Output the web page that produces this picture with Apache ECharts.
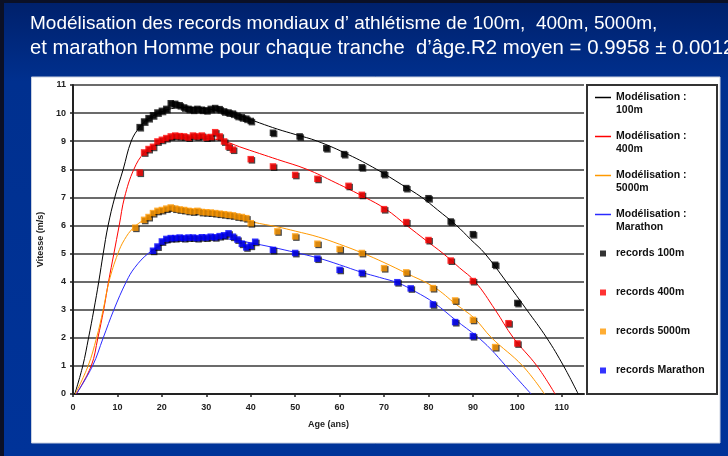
<!DOCTYPE html>
<html>
<head>
<meta charset="utf-8">
<script src="https://cdn.jsdelivr.net/npm/echarts@6/dist/echarts.min.js"></script>
<style>
  html, body { margin: 0; padding: 0; background: #003399; }
  #chart { width: 728px; height: 456px; }
</style>
</head>
<body>
<div id="chart"></div>
<script>
// records (âge, vitesse m/s)
const ages100 = [15, 16, 17, 18, 19, 20, 21, 22, 23, 24, 25, 26, 27, 28, 29, 30, 31, 32, 33, 34, 35, 36, 37, 38, 39, 40, 45, 51, 57, 61, 65, 70, 75, 80, 85, 90, 95, 100];
const rec100 = [9.5, 9.7, 9.82, 9.92, 10.02, 10.08, 10.15, 10.35, 10.33, 10.28, 10.2, 10.15, 10.12, 10.15, 10.12, 10.1, 10.15, 10.18, 10.14, 10.06, 10.02, 9.98, 9.9, 9.85, 9.8, 9.72, 9.3, 9.17, 8.75, 8.54, 8.07, 7.83, 7.33, 6.97, 6.14, 5.69, 4.6, 3.24];

const ages400 = [15, 16, 17, 18, 19, 20, 21, 22, 23, 24, 25, 26, 27, 28, 29, 30, 31, 32, 33, 34, 35, 36, 40, 45, 50, 55, 62, 65, 70, 75, 80, 85, 90, 98, 100];
const rec400 = [7.88, 8.6, 8.72, 8.8, 8.99, 9.05, 9.11, 9.17, 9.2, 9.18, 9.17, 9.13, 9.2, 9.17, 9.2, 9.13, 9.15, 9.32, 9.17, 8.99, 8.81, 8.7, 8.36, 8.1, 7.8, 7.66, 7.41, 7.09, 6.58, 6.12, 5.48, 4.75, 4.02, 2.52, 1.8];

const ages5000 = [14, 16, 17, 18, 19, 20, 21, 22, 23, 24, 25, 26, 27, 28, 29, 30, 31, 32, 33, 34, 35, 36, 37, 38, 39, 40, 46, 50, 55, 60, 65, 70, 75, 81, 86, 90, 95];
const rec5000 = [5.92, 6.2, 6.3, 6.44, 6.52, 6.55, 6.6, 6.64, 6.6, 6.57, 6.55, 6.52, 6.5, 6.52, 6.48, 6.47, 6.46, 6.44, 6.42, 6.4, 6.38, 6.36, 6.32, 6.3, 6.26, 6.08, 5.79, 5.61, 5.35, 5.16, 5.02, 4.48, 4.33, 3.77, 3.33, 2.64, 1.67];

const agesMar = [18, 19, 20, 21, 22, 23, 24, 25, 26, 27, 28, 29, 30, 31, 32, 33, 34, 35, 36, 37, 38, 39, 40, 41, 45, 50, 55, 60, 65, 73, 76, 81, 86, 90];
const recMar = [5.1, 5.25, 5.43, 5.52, 5.55, 5.55, 5.57, 5.55, 5.57, 5.57, 5.55, 5.58, 5.57, 5.6, 5.58, 5.62, 5.65, 5.72, 5.6, 5.5, 5.35, 5.22, 5.28, 5.42, 5.13, 5.02, 4.82, 4.42, 4.31, 3.98, 3.76, 3.19, 2.56, 2.06];

// courbes de modélisation
const modAge100 = [0.4, 2.2, 3.5, 4.7, 5.8, 6.8, 7.9, 9.4, 11.3, 13.1, 15, 17, 20, 23, 26, 30, 34, 38, 42, 46, 50, 55, 62, 68.3, 74, 78.5, 82, 86.3, 89.5, 92.7, 97.5, 102.1, 106.6, 110.4, 113.7];
const mod100 = [0, 1, 2, 3, 4, 5, 6, 7, 8, 9, 9.5, 9.8, 10.05, 10.18, 10.2, 10.15, 10.05, 9.88, 9.65, 9.43, 9.24, 9.0, 8.52, 8.0, 7.45, 7.0, 6.56, 6.0, 5.5, 5.0, 4.0, 3.0, 2.0, 1.0, 0];

const modAge400 = [0.75, 4.1, 5.6, 6.9, 8.0, 9.2, 10.4, 11.6, 13.7, 16.1, 19, 22, 26, 30, 34, 37.5, 42, 46, 52.6, 59, 65.7, 70.4, 75.1, 79.5, 83.3, 87, 90.5, 95, 99.1, 104.4, 108.5];
const mod400 = [0, 1, 2, 3, 4, 5, 6, 7, 8, 8.6, 8.9, 9.05, 9.12, 9.1, 9.0, 8.8, 8.56, 8.35, 8.0, 7.53, 7.0, 6.58, 6.0, 5.46, 5.0, 4.49, 4.0, 3.0, 2.0, 1.0, 0];

const modAge5000 = [0.5, 3.4, 5.3, 6.8, 8.1, 10.1, 11.6, 13.5, 16, 19, 22, 26, 30, 34, 37.5, 40.5, 46, 50, 55.2, 60, 65.1, 70, 75, 81.2, 86.3, 90.3, 94.2, 101.2, 106.1];
const mod5000 = [0, 1, 2, 3, 4, 5, 5.5, 5.9, 6.2, 6.42, 6.52, 6.55, 6.5, 6.42, 6.26, 6.12, 5.95, 5.8, 5.59, 5.33, 5.02, 4.68, 4.3, 3.81, 3.18, 2.7, 2.0, 1.0, 0];

const modAgeMar = [0.75, 4.4, 6.8, 9.2, 12, 13.9, 16.9, 20, 24, 28, 32, 36, 40, 45, 50, 55.2, 60, 65, 69, 73.2, 77, 81.3, 86.2, 90.9, 94, 97.4, 103.1];
const modMar = [0, 1, 2, 3, 4, 4.5, 5, 5.3, 5.48, 5.55, 5.55, 5.5, 5.38, 5.22, 5.04, 4.84, 4.6, 4.33, 4.15, 3.95, 3.65, 3.24, 2.62, 2.05, 1.6, 1.0, 0];

const xTicksMax = 115;
const yTicksMax = 11;

const names = ['Modélisation :\n100m', 'Modélisation :\n400m', 'Modélisation :\n5000m', 'Modélisation :\nMarathon',
  'records 100m', 'records 400m', 'records 5000m', 'records Marathon'];
const colors = ['#000000', '#ff0000', '#ff9900', '#0000ff'];

function pairs(xs, ys) {
  return xs.map(function (x, i) { return [x, ys[i]]; });
}

const modelSets = [[modAge100, mod100], [modAge400, mod400], [modAge5000, mod5000], [modAgeMar, modMar]];
const recSets = [[ages100, rec100], [ages400, rec400], [ages5000, rec5000], [agesMar, recMar]];

let series = [];
modelSets.forEach(function (s, i) {
  series.push({
    name: names[i],
    type: 'line',
    data: pairs(s[0], s[1]),
    smooth: 0.4,
    symbol: 'none',
    lineStyle: { color: i === 3 ? '#2a2aff' : colors[i], width: 1 },
    itemStyle: { color: i === 3 ? '#2a2aff' : colors[i] },
    z: 2
  });
});
recSets.forEach(function (s, i) {
  series.push({
    name: names[i + 4],
    type: 'scatter',
    data: pairs(s[0], s[1]),
    symbol: 'rect',
    symbolSize: 6.5,
    itemStyle: {
      color: colors[i],
      shadowColor: 'rgba(0,0,0,0.9)',
      shadowOffsetX: 1.2,
      shadowOffsetY: 1.2,
      shadowBlur: 0
    },
    z: 3
  });
});

const legendData = names.map(function (n, i) {
  return {
    name: n,
    icon: i < 4 ? 'path://M0,0H16V1.5H0Z' : 'path://M0,0H5V5H0Z'
  };
});

const chart = echarts.init(document.getElementById('chart'));
chart.setOption({
  animation: false,
  backgroundColor: {
    type: 'linear', x: 0, y: 0, x2: 0, y2: 1,
    colorStops: [{ offset: 0, color: '#00206a' }, { offset: 0.18, color: '#00308f' }, { offset: 1, color: '#003399' }]
  },
  graphic: [
    { type: 'rect', shape: { x: 0, y: 0, width: 728, height: 3 }, style: { fill: '#0b1026' }, z: -2 },
    { type: 'rect', shape: { x: 0, y: 0, width: 4, height: 456 }, style: { fill: '#0b1026' }, z: -2 },
    { type: 'rect', shape: { x: 31.5, y: 77, width: 688.5, height: 366 }, style: { fill: '#ffffff', stroke: '#c8d0e0', lineWidth: 1 }, z: -1 },
    { type: 'rect', shape: { x: 587, y: 85, width: 130, height: 309 }, style: { fill: 'none', stroke: '#333333', lineWidth: 2 }, z: 1 }
  ],
  title: {
    text: '{a|Modélisation des records mondiaux d’ athlétisme de 100m,  400m, 5000m,}\n{c|et marathon Homme pour chaque tranche  d’âge.}{b|R2 moyen = 0.9958 ± 0.0012}',
    left: 25,
    top: 7,
    textStyle: {
      color: '#ffffff',
      fontWeight: 'normal',
      rich: {
        a: { color: '#ffffff', fontSize: 19, fontWeight: 'normal', fontFamily: 'Liberation Sans', lineHeight: 24 },
        c: { color: '#ffffff', fontSize: 20.2, fontWeight: 'normal', fontFamily: 'Liberation Sans', lineHeight: 24 },
        b: { color: '#ffffff', fontSize: 20.4, fontWeight: 'normal', fontFamily: 'Liberation Sans', lineHeight: 24 }
      }
    }
  },
  legend: {
    orient: 'vertical',
    left: 595,
    top: 78,
    padding: 0,
    itemGap: 0,
    itemWidth: 16,
    itemHeight: 6,
    data: legendData,
    formatter: function (name) {
      return name.indexOf('\n') >= 0 ? '\n' + name : '\n' + name + '\n';
    },
    textStyle: { fontSize: 10.5, fontWeight: 'bold', color: '#111', fontFamily: 'Liberation Sans', lineHeight: 13 }
  },
  grid: { left: 73, right: 144, top: 85, bottom: 62, containLabel: false },
  xAxis: {
    type: 'value',
    min: 0,
    max: xTicksMax,
    interval: 10,
    name: 'Age (ans)',
    nameLocation: 'middle',
    nameGap: 26,
    nameTextStyle: { fontSize: 9, fontWeight: 'bold', color: '#222', fontFamily: 'Liberation Sans' },
    axisLine: { lineStyle: { color: '#222', width: 2 } },
    axisTick: { show: true, length: 3, lineStyle: { color: '#222', width: 1.5 } },
    axisLabel: { fontSize: 9, fontWeight: 'bold', color: '#222', margin: 9, showMaxLabel: false, fontFamily: 'Liberation Sans' },
    splitLine: { show: false }
  },
  yAxis: {
    type: 'value',
    min: 0,
    max: yTicksMax,
    interval: 1,
    name: 'Vitesse (m/s)',
    nameLocation: 'middle',
    nameGap: 27,
    nameTextStyle: { fontSize: 9, fontWeight: 'bold', color: '#222', fontFamily: 'Liberation Sans' },
    axisLine: { show: true, lineStyle: { color: '#222', width: 2 } },
    axisTick: { show: true, length: 3, lineStyle: { color: '#222', width: 1.5 } },
    axisLabel: { fontSize: 9, fontWeight: 'bold', color: '#222', margin: 7, fontFamily: 'Liberation Sans' },
    splitLine: { show: true, lineStyle: { color: '#3a3a3a', width: 1.5 } }
  },
  series: series
});
</script>
</body>
</html>
